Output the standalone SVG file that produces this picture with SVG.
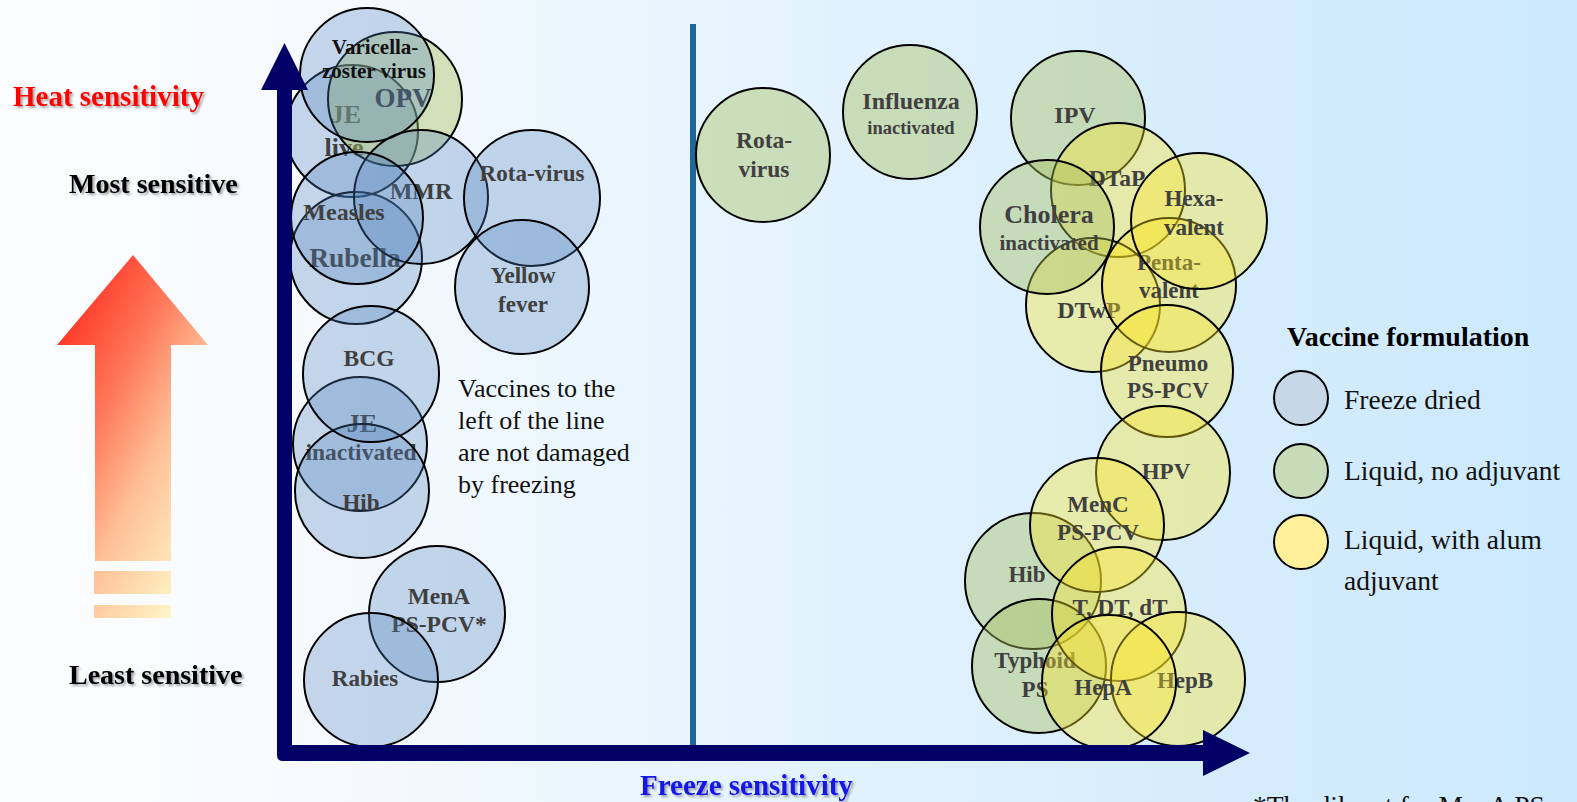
<svg xmlns="http://www.w3.org/2000/svg" width="1577" height="802" viewBox="0 0 1577 802">
<defs>
<linearGradient id="bg" x1="0" y1="0" x2="1" y2="0">
<stop offset="0" stop-color="#fcfdfe"/>
<stop offset="0.2" stop-color="#f6fafe"/>
<stop offset="0.42" stop-color="#e8f5fe"/>
<stop offset="0.78" stop-color="#d5ecfc"/>
<stop offset="1" stop-color="#cce9fd"/>
</linearGradient>
<linearGradient id="heat" gradientUnits="userSpaceOnUse" x1="57" y1="345" x2="260" y2="452">
<stop offset="0" stop-color="#ff3a2a"/>
<stop offset="0.3" stop-color="#ff7658"/>
<stop offset="0.6" stop-color="#ffbf96"/>
<stop offset="1" stop-color="#fff7c9"/>
</linearGradient>
<filter id="sh" x="-5%" y="-30%" width="115%" height="170%">
<feDropShadow dx="2" dy="2" stdDeviation="1.2" flood-color="#000" flood-opacity="0.35"/>
</filter>
</defs>
<style>
.fd{fill:#4F81BD;fill-opacity:.3;stroke:#000;stroke-width:2}
.lq{fill:#A8BE5C;fill-opacity:.42;stroke:#000;stroke-width:2}
.al{fill:#FAE628;fill-opacity:.38;stroke:#000;stroke-width:2}
text{font-family:"Liberation Serif","Times New Roman",serif}
.l{font-weight:bold;font-size:23px;fill:#404040;text-anchor:middle}
.ax{font-weight:bold;font-size:28px;filter:url(#sh)}
.r{font-size:26px;fill:#111}
.lg{font-size:27.5px;fill:#111}
.lgc{stroke:#000;stroke-width:2}
</style>
<rect x="0" y="0" width="1577" height="802" fill="url(#bg)"/>

<g id="heat-arrow" fill="url(#heat)">
<path d="M133,255 L208,345 L171,345 L171,561 L95,561 L95,345 L57,345 Z"/>
<rect x="94" y="571" width="77" height="23"/>
<rect x="94" y="605" width="77" height="13"/>
</g>

<g id="axis-labels">
<text class="ax" x="13" y="106" style="font-size:29px" fill="#ff0000">Heat sensitivity</text>
<text class="ax" x="69" y="193" fill="#000">Most sensitive</text>
<text class="ax" x="69" y="684" fill="#000">Least sensitive</text>
<text class="ax" x="640" y="795" style="font-size:29px" fill="#1414e6">Freeze sensitivity</text>
</g>

<g id="divider">
<rect x="690" y="24" width="6" height="721" fill="#1f6699"/>
</g>

<g id="n-je-live"><circle class="fd" cx="352" cy="131" r="66"/><text class="l" x="346" y="123" style="font-size:26px">JE</text><text class="l" x="344" y="156" style="font-size:26px">live</text></g>
<g id="n-opv"><circle class="lq" cx="395" cy="99" r="67"/><text class="l" x="403" y="107" style="font-size:27px">OPV</text></g>
<g id="n-varicella"><circle class="fd" cx="367" cy="75" r="67"/><text class="l" x="375" y="54" style="font-size:21px;fill:#111">Varicella-</text><text class="l" x="374" y="78" style="font-size:21px;fill:#111">zoster virus</text></g>
<g id="n-rubella"><circle class="fd" cx="356" cy="258" r="66"/><text class="l" x="355" y="267" style="font-size:27.5px">Rubella</text></g>
<g id="n-mmr"><circle class="fd" cx="421" cy="197" r="67"/><text class="l" x="421" y="199" style="font-size:24px">MMR</text></g>
<g id="n-measles"><circle class="fd" cx="357" cy="218" r="66"/><text class="l" x="344" y="220" style="font-size:24px">Measles</text></g>
<g id="n-rotavirus-fd"><circle class="fd" cx="532" cy="198" r="68"/><text class="l" x="532" y="181">Rota-virus</text></g>
<g id="n-yellow-fever"><circle class="fd" cx="522" cy="287" r="67"/><text class="l" x="523" y="283">Yellow</text><text class="l" x="523" y="312">fever</text></g>
<g id="n-je-inact"><circle class="fd" cx="360" cy="444" r="67"/><text class="l" x="362" y="432" style="font-size:26px">JE</text><text class="l" x="361" y="460" style="font-size:23.5px">inactivated</text></g>
<g id="n-hib-fd"><circle class="fd" cx="362" cy="491" r="67"/><text class="l" x="361" y="510">Hib</text></g>
<g id="n-bcg"><circle class="fd" cx="371" cy="374" r="68"/><text class="l" x="369" y="366" style="font-size:23.5px">BCG</text></g>
<g id="n-mena"><circle class="fd" cx="437" cy="614" r="68"/><text class="l" x="439" y="604" style="font-size:23.5px">MenA</text><text class="l" x="439" y="632" style="font-size:23.5px">PS-PCV*</text></g>
<g id="n-rabies"><circle class="fd" cx="371" cy="680" r="67"/><text class="l" x="365" y="686">Rabies</text></g>

<g id="n-rotavirus-lq"><circle class="lq" cx="763" cy="155" r="67"/><text class="l" x="764" y="148" style="font-size:23.5px">Rota-</text><text class="l" x="764" y="177" style="font-size:23.5px">virus</text></g>
<g id="n-influenza"><circle class="lq" cx="910" cy="112" r="67"/><text class="l" x="911" y="109" style="font-size:24px">Influenza</text><text class="l" x="911" y="134" style="font-size:18.5px">inactivated</text></g>
<g id="n-ipv"><circle class="lq" cx="1078" cy="118" r="67"/><text class="l" x="1075" y="123" style="font-size:24px">IPV</text></g>
<g id="n-dtap"><circle class="al" cx="1118" cy="190" r="67"/><text class="l" x="1117" y="186" style="font-size:23.5px">DTaP</text></g>
<g id="n-dtwp"><circle class="al" cx="1093" cy="305" r="67"/><text class="l" x="1089" y="318" style="font-size:24px">DTwP</text></g>
<g id="n-cholera"><circle class="lq" cx="1047" cy="227" r="67"/><text class="l" x="1049" y="223" style="font-size:26px">Cholera</text><text class="l" x="1049" y="250" style="font-size:21px">inactivated</text></g>
<g id="n-penta"><circle class="al" cx="1169" cy="285" r="67"/><text class="l" x="1169" y="270">Penta-</text><text class="l" x="1169" y="298">valent</text></g>
<g id="n-hexa"><circle class="al" cx="1199" cy="221" r="68"/><text class="l" x="1194" y="206">Hexa-</text><text class="l" x="1194" y="235">valent</text></g>
<g id="n-pneumo"><circle class="al" cx="1167" cy="371" r="66"/><text class="l" x="1168" y="371">Pneumo</text><text class="l" x="1168" y="398">PS-PCV</text></g>
<g id="n-hpv"><circle class="al" cx="1163" cy="473" r="67"/><text class="l" x="1166" y="479">HPV</text></g>
<g id="n-hib-lq"><circle class="lq" cx="1033" cy="581" r="68"/><text class="l" x="1027" y="582">Hib</text></g>
<g id="n-menc"><circle class="al" cx="1097" cy="525" r="67"/><text class="l" x="1098" y="512">MenC</text><text class="l" x="1098" y="540">PS-PCV</text></g>
<g id="n-typhoid"><circle class="lq" cx="1039" cy="666" r="67"/><text class="l" x="1035" y="668">Typhoid</text><text class="l" x="1035" y="697">PS</text></g>
<g id="n-t-dt"><circle class="al" cx="1119" cy="614" r="67"/><text class="l" x="1120" y="615">T, DT, dT</text></g>
<g id="n-hepb"><circle class="al" cx="1178" cy="679" r="67"/><text class="l" x="1185" y="688">HepB</text></g>
<g id="n-hepa"><circle class="al" cx="1109" cy="682" r="67"/><text class="l" x="1103" y="695">HepA</text></g>

<g id="axes" fill="#000066">
<path d="M277,90 H292 V745 H1203 V761 H283 Q277,761 277,755 Z"/>
<polygon points="284.5,43 308,90 261,90"/>
<polygon points="1250,753 1203,730 1203,776"/>
</g>

<g id="note">
<text class="r" x="458" y="397">Vaccines to the</text>
<text class="r" x="458" y="429">left of the line</text>
<text class="r" x="458" y="461">are not damaged</text>
<text class="r" x="458" y="493">by freezing</text>
</g>

<g id="legend">
<text x="1287" y="346" style="font-weight:bold;font-size:28px" fill="#000">Vaccine formulation</text>
<circle class="lgc" cx="1301" cy="398" r="27" fill="#c6d8e8"/>
<text class="lg" x="1344" y="409">Freeze dried</text>
<circle class="lgc" cx="1301" cy="471" r="27" fill="#c6dcb9"/>
<text class="lg" x="1344" y="480">Liquid, no adjuvant</text>
<circle class="lgc" cx="1301" cy="542" r="27" fill="#fff099"/>
<text class="lg" x="1344" y="549">Liquid, with alum</text>
<text class="lg" x="1344" y="590">adjuvant</text>
</g>

<g id="footnote">
<text class="lg" x="1253" y="815">*The diluent for MenA PS</text>
</g>
</svg>
